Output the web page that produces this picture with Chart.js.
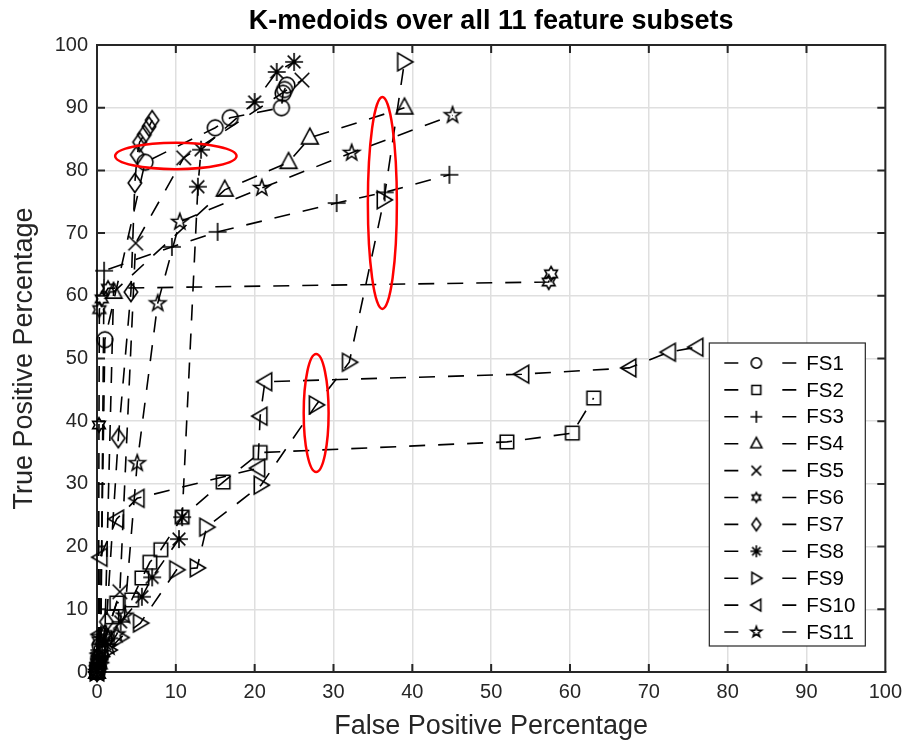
<!DOCTYPE html>
<html>
<head>
<meta charset="utf-8">
<title>K-medoids feature subsets</title>
<script src="https://cdn.jsdelivr.net/npm/chart.js@4.4.1/dist/chart.umd.min.js"></script>
<style>
  html, body { margin: 0; padding: 0; background: #fff; }
</style>
</head>
<body>
<canvas id="rocChart" width="910" height="744"></canvas>
<script>
// ROC points per feature subset: [false positive %, true positive %]
const subsetNames = ['FS1', 'FS2', 'FS3', 'FS4', 'FS5', 'FS6', 'FS7', 'FS8', 'FS9', 'FS10', 'FS11'];

const fs1 = [[0, 0], [0.1, 0.9], [0.2, 2.1], [0.4, 4.2], [1, 53], [6.1, 81.3], [15, 86.8], [16.9, 88.4], [23.4, 90], [23.6, 92.3], [23.8, 92.9], [24.1, 93.6]];
const fs2 = [[0, 0], [0.2, 1.2], [0.5, 3], [1, 5.5], [1.9, 8.8], [2.5, 11], [4.4, 11.5], [5.7, 15], [6.7, 17.5], [8.1, 19.5], [10.8, 24.7], [16, 30.3], [20.7, 35], [52, 36.7], [60.3, 38.1], [63, 43.7]];
const fs3 = [[0, 0], [0.1, 1.5], [0.3, 3.5], [0.5, 6], [0.9, 64], [9.5, 67.8], [15.3, 70.2], [30.4, 74.8], [36.5, 76.5], [44.7, 79.3]];
const fs4 = [[0, 0], [0.2, 1.5], [0.5, 3.5], [1, 6], [2.1, 60.6], [16.2, 76.9], [24.3, 81.3], [27, 85.2], [39, 90]];
const fs5 = [[0, 0], [0.3, 2], [1, 5], [2.9, 12.8], [4.9, 68.4], [11, 82], [26, 94.4]];
const fs6 = [[0, 0], [0.1, 2], [0.2, 5], [0.25, 39.4], [0.3, 57.8], [0.6, 59.5], [1.4, 61.2], [57.3, 62.2], [57.6, 63.5]];
const fs7 = [[0, 0], [0.2, 2], [0.6, 4.5], [1.2, 8], [2.7, 37.3], [4.3, 60.6], [4.8, 78], [5.1, 82.5], [5.4, 84.5], [6, 85.7], [6.6, 87], [7, 88]];
const fs8 = [[0, 0], [0.3, 2], [1, 4.5], [3, 8], [5.7, 12], [7, 15.1], [10.4, 21.2], [10.8, 24.7], [12.8, 77.4], [13.2, 83.3], [20, 90.9], [22.8, 95.7], [25, 97.3]];
const fs9 = [[0, 0], [0.4, 1.5], [1.5, 3.5], [3, 5.5], [5.5, 7.8], [10.1, 16.3], [12.7, 16.6], [13.9, 23.1], [20.8, 29.8], [27.8, 42.6], [32, 49.4], [36.4, 75.3], [39, 97.3]];
const fs10 = [[0, 0], [0.1, 1], [0.2, 3], [0.3, 6], [0.4, 18.3], [2.5, 24.4], [5.1, 27.7], [20.4, 32.5], [20.7, 40.8], [21.3, 46.3], [53.9, 47.5], [67.5, 48.5], [72.5, 51], [76, 51.8]];
const fs11 = [[0, 0], [0.5, 2], [1.5, 4], [2.5, 6], [3.5, 9], [5.1, 33.3], [7.7, 58.8], [10.5, 71.8], [20.9, 77.2], [32.3, 82.8], [45.1, 88.8]];

const axisTicks = [0, 10, 20, 30, 40, 50, 60, 70, 80, 90, 100];

// circled operating points: [fp centre, tp centre, fp radius, tp radius]
const highlightRings = [[10.0, 82.3, 7.7, 2.1], [36.2, 74.8, 1.84, 16.9], [27.8, 41.3, 1.58, 9.4]];

const allSubsets = [fs1, fs2, fs3, fs4, fs5, fs6, fs7, fs8, fs9, fs10, fs11];
const markerKinds = ['o', 's', '+', '^', 'x', 'h', 'd', '*', '>', '<', 'p'];
const FONT = '"Liberation Sans", Arial, Helvetica, sans-serif';
const AXIS_INK = '#262626';

function starPath(ctx, n, outer, inner) {
  for (let i = 0; i < n * 2; i++) {
    const r = i % 2 ? inner : outer;
    const a = -Math.PI / 2 + i * Math.PI / n;
    if (i === 0) ctx.moveTo(r * Math.cos(a), r * Math.sin(a));
    else ctx.lineTo(r * Math.cos(a), r * Math.sin(a));
  }
  ctx.closePath();
}

function polyPath(ctx, pts, k) {
  pts.forEach(([px, py], i) => i ? ctx.lineTo(px * k, py * k) : ctx.moveTo(px * k, py * k));
  ctx.closePath();
}

function traceMarker(ctx, kind, k) {
  ctx.beginPath();
  switch (kind) {
    case 'o': ctx.arc(0, 0, 7 * k, 0, Math.PI * 2); break;
    case 's': ctx.rect(-6 * k, -6 * k, 12 * k, 12 * k); break;
    case '+':
      ctx.moveTo(-8 * k, 0); ctx.lineTo(8 * k, 0);
      ctx.moveTo(0, -8 * k); ctx.lineTo(0, 8 * k);
      break;
    case 'x':
      ctx.moveTo(-6.5 * k, -6.5 * k); ctx.lineTo(6.5 * k, 6.5 * k);
      ctx.moveTo(6.5 * k, -6.5 * k); ctx.lineTo(-6.5 * k, 6.5 * k);
      break;
    case '*':
      for (let i = 0; i < 4; i++) {
        const a = i * Math.PI / 4;
        ctx.moveTo(-8 * k * Math.cos(a), -8 * k * Math.sin(a));
        ctx.lineTo(8 * k * Math.cos(a), 8 * k * Math.sin(a));
      }
      break;
    case '^': polyPath(ctx, [[0, -8.5], [7.5, 5.5], [-7.5, 5.5]], k); break;
    case '>': polyPath(ctx, [[7.5, 0], [-6, -8], [-6, 8]], k); break;
    case '<': polyPath(ctx, [[-7.5, 0], [6, -8], [6, 8]], k); break;
    case 'd': polyPath(ctx, [[0, -8.5], [6, 0], [0, 8.5], [-6, 0]], k); break;
    case 'p': starPath(ctx, 5, 7.5 * k, 7.5 * k * 0.4); break;
    case 'h': starPath(ctx, 6, 6.5 * k, 6.5 * k / Math.sqrt(3)); break;
  }
  ctx.stroke();
}

function markerCanvas(kind, k) {
  const c = document.createElement('canvas');
  c.width = 28; c.height = 28;
  const g = c.getContext('2d');
  g.translate(14, 14);
  g.strokeStyle = '#000';
  g.lineWidth = 1.6;
  g.lineJoin = 'miter';
  traceMarker(g, kind, k);
  return c;
}

const plotMarkers = markerKinds.map(m => markerCanvas(m, 1.12));
const legendMarkers = markerKinds.map(m => markerCanvas(m, 0.74));

// MATLAB-style box with inward ticks on all four sides
const axesFrame = {
  id: 'axesFrame',
  beforeDatasetsDraw(chart) {
    const { ctx, chartArea: a, scales: { x, y } } = chart;
    ctx.save();
    ctx.strokeStyle = AXIS_INK;
    ctx.lineWidth = 2;
    ctx.beginPath();
    ctx.moveTo(a.left, a.top); ctx.lineTo(a.right, a.top); ctx.lineTo(a.right, a.bottom);
    axisTicks.forEach(v => {
      const px = x.getPixelForValue(v);
      const py = y.getPixelForValue(v);
      ctx.moveTo(px, a.bottom); ctx.lineTo(px, a.bottom - 8);
      ctx.moveTo(px, a.top); ctx.lineTo(px, a.top + 8);
      ctx.moveTo(a.left, py); ctx.lineTo(a.left + 8, py);
      ctx.moveTo(a.right, py); ctx.lineTo(a.right - 8, py);
    });
    ctx.stroke();
    ctx.restore();
  }
};

// red rings around the marked thresholds, then the boxed legend
const overlays = {
  id: 'overlays',
  afterDatasetsDraw(chart) {
    const { ctx, chartArea: a, scales: { x, y } } = chart;
    ctx.save();
    ctx.strokeStyle = '#ff0000';
    ctx.lineWidth = 2.5;
    highlightRings.forEach(([cx, cy, rx, ry]) => {
      const px = x.getPixelForValue(cx);
      const py = y.getPixelForValue(cy);
      const prx = Math.abs(x.getPixelForValue(cx + rx) - px);
      const pry = Math.abs(y.getPixelForValue(cy + ry) - py);
      ctx.beginPath();
      ctx.ellipse(px, py, prx, pry, 0, 0, Math.PI * 2);
      ctx.stroke();
    });

    const w = 156, h = 303;
    const left = a.right - 20 - w;
    const top = a.bottom - 26 - h;
    ctx.fillStyle = '#fff';
    ctx.fillRect(left, top, w, h);
    ctx.strokeStyle = AXIS_INK;
    ctx.lineWidth = 1.2;
    ctx.strokeRect(left, top, w, h);

    ctx.font = '20.5px ' + FONT;
    ctx.textBaseline = 'middle';
    ctx.textAlign = 'left';
    ctx.fillStyle = '#000';
    subsetNames.forEach((name, i) => {
      const ry = top + 20 + i * 26.9;
      ctx.strokeStyle = '#000';
      ctx.lineWidth = 1.6;
      ctx.beginPath();
      ctx.moveTo(left + 15, ry); ctx.lineTo(left + 29, ry);
      ctx.moveTo(left + 73, ry); ctx.lineTo(left + 87, ry);
      ctx.stroke();
      ctx.drawImage(legendMarkers[i], left + 47 - 14, ry - 14);
      ctx.fillText(name, left + 97, ry + 1);
    });
    ctx.restore();
  }
};

const datasets = allSubsets.map((pts, i) => ({
  label: subsetNames[i],
  data: pts.map(([fp, tp]) => ({ x: fp, y: tp })),
  showLine: true,
  borderColor: '#000',
  borderWidth: 1.6,
  borderDash: [16, 13],
  backgroundColor: 'transparent',
  pointStyle: plotMarkers[i],
  pointRadius: 8,
  pointHoverRadius: 8,
  tension: 0,
  clip: false
}));

const tickFont = { family: FONT, size: 20 };

new Chart(document.getElementById('rocChart'), {
  type: 'scatter',
  data: { datasets },
  options: {
    responsive: false,
    animation: false,
    devicePixelRatio: 1,
    layout: { padding: { top: 0, right: 24, bottom: 0, left: 0 } },
    plugins: {
      legend: { display: false },
      tooltip: { enabled: false },
      title: {
        display: true,
        fullSize: false,
        text: 'K-medoids over all 11 feature subsets',
        color: '#000',
        font: { family: FONT, size: 27, weight: 'bold' },
        padding: { top: 5.6, bottom: 7 }
      }
    },
    scales: {
      x: {
        type: 'linear',
        min: 0,
        max: 100,
        afterBuildTicks: s => { s.ticks = axisTicks.map(v => ({ value: v })); },
        afterFit: s => { s.height = 72; },
        grid: { color: '#dfdfdf', lineWidth: 1.5, drawTicks: false },
        border: { display: true, color: AXIS_INK, width: 2 },
        ticks: { color: AXIS_INK, font: tickFont, padding: 8, maxRotation: 0 },
        title: {
          display: true,
          text: 'False Positive Percentage',
          color: AXIS_INK,
          font: { family: FONT, size: 27 },
          padding: { top: 0, bottom: 1 }
        }
      },
      y: {
        type: 'linear',
        min: 0,
        max: 100,
        afterBuildTicks: s => { s.ticks = axisTicks.map(v => ({ value: v })); },
        afterFit: s => { s.width = 97; },
        grid: { color: '#dfdfdf', lineWidth: 1.5, drawTicks: false },
        border: { display: true, color: AXIS_INK, width: 2 },
        ticks: { color: AXIS_INK, font: tickFont, padding: 9 },
        title: {
          display: true,
          text: 'True Positive Percentage',
          color: AXIS_INK,
          font: { family: FONT, size: 27 },
          padding: { top: 8.8, bottom: 0 }
        }
      }
    }
  },
  plugins: [axesFrame, overlays]
});
</script>
</body>
</html>
